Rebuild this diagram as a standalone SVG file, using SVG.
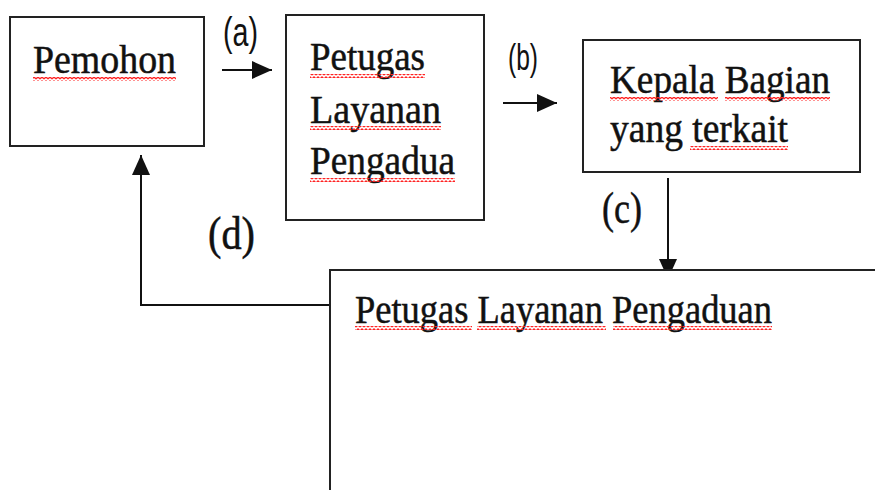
<svg xmlns="http://www.w3.org/2000/svg" width="875" height="490" viewBox="0 0 875 490">
<style>
.box{fill:#fff;stroke:#222;stroke-width:2}
.t{font-family:'Liberation Serif','Times New Roman',serif;font-size:40px;fill:#111;stroke:#111;stroke-width:0.5}
.ls{font-family:'Liberation Sans',Arial,sans-serif;fill:#111}
.con{fill:none;stroke:#111;stroke-width:2}
.sq{fill:url(#squig)}
</style>
<defs>
<marker id="ah" viewBox="0 0 20 18" refX="20" refY="9" markerWidth="20" markerHeight="18" markerUnits="userSpaceOnUse" orient="auto">
<path d="M0,0 L20,9 L0,18 z" fill="#111"/>
</marker>
<pattern id="squig" width="4" height="4" patternUnits="userSpaceOnUse">
<path d="M0,3 L2,1 L4,3" fill="none" stroke="#f22" stroke-width="1.3"/>
</pattern>
</defs>
<rect width="875" height="490" fill="#fff"/>

<g id="connectors">
<line class="con" x1="222" y1="70" x2="272" y2="70" marker-end="url(#ah)"/>
<line class="con" x1="503" y1="103" x2="557" y2="103" marker-end="url(#ah)"/>
<line class="con" x1="668" y1="178" x2="668" y2="279" marker-end="url(#ah)"/>
<polyline class="con" points="330,305 141,305 141,155" marker-end="url(#ah)"/>
<text class="ls" x="223" y="46" font-size="40" textLength="35" lengthAdjust="spacingAndGlyphs">(a)</text>
<text class="ls" x="508" y="70" font-size="36" textLength="30" lengthAdjust="spacingAndGlyphs">(b)</text>
<text class="t" x="602" y="223" style="font-size:45px" textLength="40" lengthAdjust="spacingAndGlyphs">(c)</text>
<text class="t" x="208" y="249" style="font-size:46px" textLength="47" lengthAdjust="spacingAndGlyphs">(d)</text>
</g>

<g id="pemohon">
<rect class="box" x="10" y="17" width="194" height="129"/>
<text class="t" x="33" y="73" textLength="143" lengthAdjust="spacingAndGlyphs">Pemohon</text>
<rect class="sq" x="33" y="77" width="143" height="4"/>
</g>

<g id="petugas-layanan-pengadua">
<rect class="box" x="286" y="15" width="198" height="205"/>
<text class="t" x="310" y="70" textLength="115" lengthAdjust="spacingAndGlyphs">Petugas</text>
<text class="t" x="310" y="123" textLength="131" lengthAdjust="spacingAndGlyphs">Layanan</text>
<text class="t" x="310" y="174" textLength="145" lengthAdjust="spacingAndGlyphs">Pengadua</text>
<rect class="sq" x="310" y="74" width="115" height="4"/>
<rect class="sq" x="310" y="126" width="131" height="4"/>
<rect class="sq" x="310" y="178" width="145" height="4"/>
</g>

<g id="kepala-bagian">
<rect class="box" x="583" y="40" width="277" height="132"/>
<text class="t" x="610" y="93" textLength="220" lengthAdjust="spacingAndGlyphs">Kepala Bagian</text>
<text class="t" x="610" y="142" textLength="178" lengthAdjust="spacingAndGlyphs">yang terkait</text>
<rect class="sq" x="610" y="97" width="108" height="4"/>
<rect class="sq" x="725" y="97" width="105" height="4"/>
<rect class="sq" x="690" y="146" width="98" height="4"/>
</g>

<g id="petugas-layanan-pengaduan">
<rect class="box" x="330" y="270" width="600" height="260"/>
<text class="t" x="355" y="323" textLength="417" lengthAdjust="spacingAndGlyphs">Petugas Layanan Pengaduan</text>
<rect class="sq" x="355" y="326" width="117" height="4"/>
<rect class="sq" x="477" y="326" width="129" height="4"/>
<rect class="sq" x="613" y="326" width="159" height="4"/>
</g>
</svg>
